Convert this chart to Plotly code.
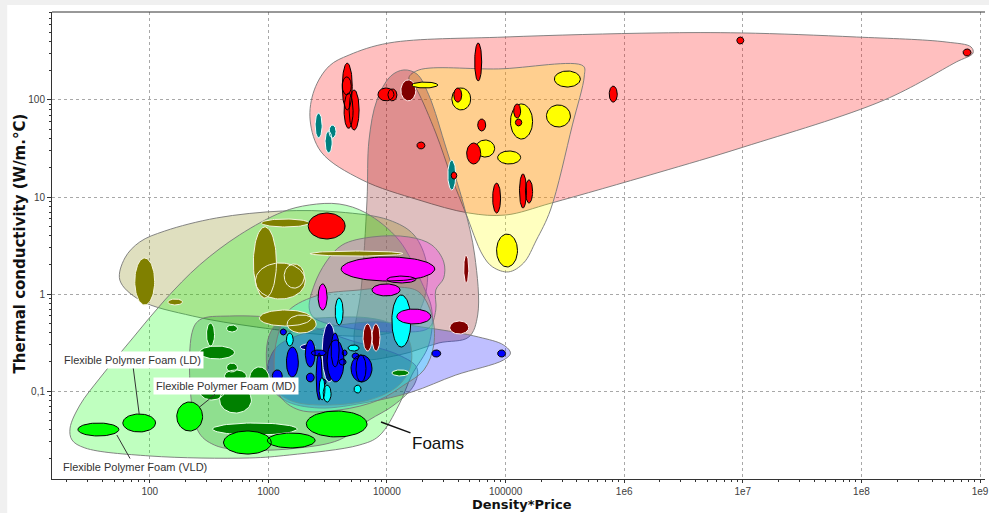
import numpy as np
import plotly.graph_objects as go

# ---------------- material bubbles (Density*Price range, conductivity range) ----------------
teal_dp_lo = [2480, 3010, 3250, 32600]
teal_dp_hi = [2840, 3450, 3720, 38000]
teal_k_lo = [40.6, 28.4, 40.6, 11.8]
teal_k_hi = [73.4, 47.9, 55.3, 24]

red_dp_lo = [4200, 4200, 4800, 4350, 8400, 10200, 54900, 36600, 58200, 17900, 34800, 47000,
             117000, 121000, 748000, 77800, 131000, 147000, 2170, 8.9e6, 7.2e8]
red_dp_hi = [5100, 5000, 5820, 5180, 11460, 12130, 62900, 42700, 68000, 20900, 38800, 61700,
             134000, 137000, 874000, 90800, 150000, 169000, 4440, 1.02e7, 8.4e8]
red_k_lo = [79, 113, 49, 51, 98, 98, 157, 95, 47.9, 31.3, 15.3, 21.9,
            65.2, 54, 95, 6.84, 7.7, 8.67, 3.69, 378, 284]
red_k_hi = [240, 173, 127, 118, 133, 130, 387, 133, 63.7, 36.9, 18.1, 36,
            91, 63.7, 139, 13.9, 17.3, 15, 6.84, 446, 336]

yellow_dp_lo = [16200, 35200, 56000, 85700, 110000, 258000, 221000, 84000]
yellow_dp_hi = [26800, 50800, 80900, 134000, 169000, 427000, 352000, 126000]
yellow_k_lo = [133, 79, 25.8, 21.9, 39.6, 136, 52.7, 1.9]
yellow_k_hi = [153, 133, 38.7, 29.8, 91, 199, 88.8, 4.15]

maroon_dp_lo = [13100, 44400, 33800, 6290, 7480]
maroon_dp_hi = [17500, 48900, 48900, 7480, 8730]
maroon_k_lo = [98, 1.3, 0.387, 0.258, 0.258]
maroon_k_hi = [161, 2.52, 0.527, 0.491, 0.491]

blue_dp_lo = [23900, 85700, 1420, 1260, 2050, 3130, 3380, 2300, 2530, 2090, 4980, 5490,
              3950, 4190, 5080, 2730, 1080]
blue_dp_hi = [28400, 100000, 1790, 1420, 2480, 4350, 3950, 3070, 2840, 2440, 7480, 6660,
              4520, 4610, 5820, 3070, 1310]
blue_k_lo = [0.224, 0.224, 0.139, 0.378, 0.177, 0.124, 0.177, 0.23, 0.0808, 0.124, 0.124, 0.124,
             0.185, 0.23, 0.214, 0.115, 0.124]
blue_k_hi = [0.265, 0.265, 0.284, 0.436, 0.336, 0.336, 0.396, 0.265, 0.246, 0.153, 0.235, 0.235,
             0.214, 0.265, 0.246, 0.133, 0.165]

navy_dp_lo = [2840, 1860]
navy_dp_hi = [3730, 2480]
navy_k_lo = [0.124, 0.265]
navy_k_hi = [0.502, 0.305]

cyan_dp_lo = [1420, 4700, 5280, 2680, 2900, 3660, 11000]
cyan_dp_hi = [1620, 5820, 6050, 3000, 3380, 4270, 15900]
cyan_k_lo = [0.291, 0.258, 0.0953, 0.081, 0.077, 0.479, 0.284]
cyan_k_hi = [0.396, 0.298, 0.115, 0.137, 0.115, 0.91, 0.977]

magenta_dp_lo = [4110, 10000, 7480, 12100, 2630]
magenta_dp_hi = [25300, 17500, 12900, 23400, 3130]
magenta_k_lo = [1.36, 1.3, 0.955, 0.491, 0.684]
magenta_k_hi = [2.41, 1.53, 1.27, 0.7, 1.27]

olive_dp_lo = [873, 748, 778, 1360, 2250, 840, 1440, 74.8, 142]
olive_dp_hi = [2210, 1170, 2050, 2010, 13600, 2300, 2530, 110, 189]
olive_k_lo = [4.91, 0.91, 0.888, 1.15, 2.46, 0.468, 0.396, 0.771, 0.771]
olive_k_hi = [5.93, 4.91, 2.09, 2.04, 2.77, 0.684, 0.608, 2.35, 0.888]

dkgreen_dp_lo = [301, 444, 263, 444, 427, 263, 388, 692, 338, 11000]
dkgreen_dp_hi = [352, 549, 518, 549, 653, 427, 720, 1020, 1750, 15300]
dkgreen_k_lo = [0.291, 0.406, 0.214, 0.157, 0.124, 0.0808, 0.0593, 0.0977, 0.0352, 0.143]
dkgreen_k_hi = [0.502, 0.479, 0.291, 0.194, 0.165, 0.124, 0.11, 0.177, 0.0468, 0.165]

lime_dp_lo = [24.8, 59.3, 169, 419, 981, 2090]
lime_dp_hi = [54.9, 112, 279, 1060, 2480, 6790]
lime_k_lo = [0.0344, 0.0378, 0.0387, 0.0224, 0.0259, 0.0336]
lime_k_hi = [0.0468, 0.058, 0.0771, 0.0387, 0.0369, 0.0622]

# ---------------- family envelopes (outline vertices) ----------------
metals_env_dp = [2250, 2440, 3260, 4800, 10400, 1e5, 1.89e6, 9.8e6, 9.08e7, 5.18e8, 8.4e8, 8.73e8,
                 6.29e8, 1.56e8, 1.02e7, 1.89e6, 2.44e5, 1e5, 48900, 18600, 6170, 2790]
metals_env_k = [62.2, 127, 224, 291, 387, 446, 491, 491, 446, 396, 352, 305,
                246, 100, 32.8, 17.7, 8.67, 6.52, 6.84, 9.31, 15, 29.1]

ceram_env_dp = [15300, 18600, 87300, 452000, 461000, 366000, 239000, 182000, 142000, 106000,
                77800, 64100, 46100, 35200, 25800, 17900]
ceram_env_k = [169, 204, 209, 224, 177, 55.3, 7.34, 3.6, 2.09, 1.69, 1.9, 2.52, 6.84, 15.7, 45.7, 127]

maroon_env_dp = [6790, 7060, 8240, 10800, 13900, 17900, 22500, 31900, 44400, 54900, 58200, 48900,
                 27400, 12600, 5820, 5280, 6050]
maroon_env_k = [9.31, 38.7, 100, 177, 204, 185, 113, 30.5, 8.27, 2.52, 0.608, 0.36,
                0.313, 0.235, 0.219, 0.336, 1.1]

olive_env_dp = [56, 61.7, 82.4, 134, 366, 1310, 3950, 10400, 16900, 21700, 20500, 15300,
                8570, 3260, 793, 230, 82.4]
olive_env_k = [1.39, 2.35, 3.44, 4.46, 6.08, 7.17, 7.0, 5.79, 4.06, 1.99, 0.867, 0.479,
               0.378, 0.378, 0.457, 0.593, 0.867]

foam_env_dp = [21.3, 25.8, 38, 72, 134, 263, 571, 1310, 2210, 3950, 6660, 12600, 19700, 23900,
               22500, 16200, 12600, 8570, 5820, 1500, 692, 100, 28.4, 22.1]
foam_env_k = [0.0415, 0.0717, 0.136, 0.352, 0.867, 1.99, 4.06, 7.0, 8.27, 8.47, 6.84, 3.6, 1.3,
              0.684, 0.298, 0.146, 0.0717, 0.0344, 0.0277, 0.0219, 0.0204, 0.0214, 0.0259, 0.0313]

dkgreen_env_dp = [225, 263, 470, 1500, 4800, 12600, 17900, 16900, 11460, 7060, 3950, 1820,
                  692, 352, 253]
dkgreen_env_k = [0.378, 0.54, 0.593, 0.54, 0.336, 0.235, 0.173, 0.115, 0.0717, 0.0502, 0.0313,
                 0.0259, 0.0246, 0.0277, 0.0396]

magenta_env_dp = [2210, 2440, 3070, 4190, 7480, 15300, 23900, 30100, 30100, 25800, 25800,
                  22500, 12600, 4800, 2440]
magenta_env_k = [0.717, 1.24, 2.14, 3.2, 3.87, 3.87, 3.2, 2.14, 1.46, 1.1, 0.684,
                 0.446, 0.406, 0.446, 0.566]

cyan_env_dp = [1240, 1500, 2680, 5820, 12600, 18600, 23900, 24800, 20500, 13900, 8570, 3950,
               1820, 1240, 1120]
cyan_env_k = [0.426, 0.684, 0.977, 1.1, 1.18, 1.05, 0.608, 0.298, 0.165, 0.115, 0.0808, 0.0637,
              0.0637, 0.091, 0.209]

navy_env_dp = [1020, 1240, 2680, 7060, 11500, 15300, 15900, 12600, 7060, 2680, 1500, 1060, 962]
navy_env_k = [0.378, 0.515, 0.566, 0.566, 0.479, 0.336, 0.185, 0.115, 0.0808, 0.0717, 0.0808,
              0.115, 0.209]

blue_env_dp = [1120, 1820, 7060, 22500, 59300, 96200, 110000, 96200, 38000, 16200, 7060, 2680,
               1360, 981]
blue_env_k = [0.265, 0.378, 0.515, 0.446, 0.36, 0.298, 0.246, 0.209, 0.146, 0.0977, 0.0771,
              0.0668, 0.0808, 0.13]

# ---------------- tick labels ----------------
x_tickvals = [1e2, 1e3, 1e4, 1e5, 1e6, 1e7, 1e8, 1e9]
x_ticktext = ["100", "1000", "10000", "100000", "1e6", "1e7", "1e8", "1e9"]
y_tickvals = [0.1, 1, 10, 100]
y_ticktext = ["0,1", "1", "10", "100"]


def ellipses(xlo, xhi, ylo, yhi, n=72):
    xs, ys = [], []
    t = np.linspace(0, 2 * np.pi, n)
    for a, b, c, d in zip(xlo, xhi, ylo, yhi):
        la, lb, lc, ld = np.log10([a, b, c, d])
        xs += list(10 ** ((la + lb) / 2 + (lb - la) / 2 * np.cos(t))) + [None]
        ys += list(10 ** ((lc + ld) / 2 + (ld - lc) / 2 * np.sin(t))) + [None]
    return xs, ys


fig = go.Figure()

envelopes = [
    (metals_env_dp, metals_env_k, "rgba(255,0,0,0.25)"),
    (ceram_env_dp, ceram_env_k, "rgba(255,255,0,0.25)"),
    (maroon_env_dp, maroon_env_k, "rgba(128,0,0,0.25)"),
    (olive_env_dp, olive_env_k, "rgba(128,128,0,0.25)"),
    (foam_env_dp, foam_env_k, "rgba(0,255,0,0.25)"),
    (dkgreen_env_dp, dkgreen_env_k, "rgba(0,128,0,0.25)"),
    (magenta_env_dp, magenta_env_k, "rgba(255,0,255,0.25)"),
    (blue_env_dp, blue_env_k, "rgba(0,0,255,0.25)"),
    (navy_env_dp, navy_env_k, "rgba(0,0,128,0.25)"),
    (cyan_env_dp, cyan_env_k, "rgba(0,255,255,0.25)"),
]
for ex, ey, col in envelopes:
    fig.add_trace(go.Scatter(
        x=list(ex) + [ex[0]], y=list(ey) + [ey[0]], mode="lines",
        line=dict(shape="spline", smoothing=1.0, color="rgba(120,120,120,0.9)", width=1),
        fill="toself", fillcolor=col, hoverinfo="skip", showlegend=False))

groups = [
    (olive_dp_lo, olive_dp_hi, olive_k_lo, olive_k_hi, "#808000", "#f4f4dc"),
    (dkgreen_dp_lo, dkgreen_dp_hi, dkgreen_k_lo, dkgreen_k_hi, "#008000", "#e8ffe8"),
    (lime_dp_lo, lime_dp_hi, lime_k_lo, lime_k_hi, "#00ff00", "#000000"),
    (navy_dp_lo, navy_dp_hi, navy_k_lo, navy_k_hi, "#000080", "#e8e8ff"),
    (blue_dp_lo, blue_dp_hi, blue_k_lo, blue_k_hi, "#0000ff", "#000000"),
    (cyan_dp_lo, cyan_dp_hi, cyan_k_lo, cyan_k_hi, "#00ffff", "#000000"),
    (magenta_dp_lo, magenta_dp_hi, magenta_k_lo, magenta_k_hi, "#ff00ff", "#000000"),
    (maroon_dp_lo, maroon_dp_hi, maroon_k_lo, maroon_k_hi, "#800000", "#ffe8e8"),
    (teal_dp_lo, teal_dp_hi, teal_k_lo, teal_k_hi, "#008080", "#e8ffff"),
    (yellow_dp_lo, yellow_dp_hi, yellow_k_lo, yellow_k_hi, "#ffff00", "#000000"),
    (red_dp_lo, red_dp_hi, red_k_lo, red_k_hi, "#ff0000", "#000000"),
]
for xlo, xhi, ylo, yhi, fc, lc in groups:
    ex, ey = ellipses(xlo, xhi, ylo, yhi)
    fig.add_trace(go.Scatter(
        x=ex, y=ey, mode="lines", line=dict(color=lc, width=1),
        fill="toself", fillcolor=fc, hoverinfo="skip", showlegend=False))

ann_font = dict(family="Liberation Sans, Arial, sans-serif", size=11, color="#333333")
labels = [
    ("Flexible Polymer Foam (LD)", 81.5, 0.058, -7, -54, True),
    ("Flexible Polymer Foam (MD)", 263, 0.0684, 26, -21, True),
    ("Flexible Polymer Foam (VLD)", 52.8, 0.0352, 18, 32, False),
]
for txt, ax_, ay_, dx, dy, box in labels:
    fig.add_annotation(x=np.log10(ax_), y=np.log10(ay_), text=txt, showarrow=True,
                       ax=dx, ay=dy, arrowhead=0, arrowwidth=1, arrowcolor="#333333",
                       font=ann_font, bgcolor="white" if box else None, borderpad=2)
fig.add_annotation(x=np.log10(8910), y=np.log10(0.0479), text="Foams", showarrow=True,
                   ax=57, ay=21, arrowhead=0, arrowwidth=1.5, arrowcolor="#111111",
                   font=dict(family="Liberation Sans, Arial, sans-serif", size=17, color="#111111"))

# axis titles
fig.add_annotation(xref="paper", yref="paper", x=0.504, y=-0.0728, xanchor="center", yanchor="bottom",
                   text="<b>Density*Price</b>", showarrow=False, borderpad=0,
                   font=dict(family="DejaVu Sans, sans-serif", size=13, color="#111111"))
fig.add_annotation(xref="paper", yref="paper", x=-0.034, y=0.505, xanchor="center", yanchor="middle",
                   textangle=-90, text="<b>Thermal conductivity (W/m.°C)</b>", showarrow=False,
                   font=dict(family="DejaVu Sans, sans-serif", size=15, color="#111111"))

minor_x = [m * 10 ** e for e in range(1, 9) for m in range(2, 10)]
minor_y = [m * 10 ** e for e in range(-2, 3) for m in range(2, 10)]
tickfont = dict(family="Liberation Sans, Arial, sans-serif", size=10, color="#404040")

fig.update_xaxes(type="log", range=[1.176, 9.042], tickvals=x_tickvals, ticktext=x_ticktext,
                 showgrid=True, gridcolor="#a8a8a8", griddash="3px,3px", gridwidth=1,
                 showline=True, linecolor="#333333", linewidth=1, ticks="outside", ticklen=3,
                 tickcolor="#333333", zeroline=False, tickfont=tickfont, ticklabeloverflow="allow",
                 minor=dict(tickmode="array", tickvals=minor_x, ticks="outside", ticklen=2,
                            tickcolor="#333333", showgrid=False))
fig.update_yaxes(type="log", range=[-1.907, 2.907], tickvals=y_tickvals, ticktext=y_ticktext,
                 showgrid=True, gridcolor="#a8a8a8", griddash="3px,3px", gridwidth=1,
                 showline=True, linecolor="#333333", linewidth=1, ticks="outside", ticklen=4,
                 tickcolor="#333333", zeroline=False, tickfont=tickfont,
                 minor=dict(tickmode="array", tickvals=minor_y, ticks="outside", ticklen=2,
                            tickcolor="#333333", showgrid=False))

fig.update_layout(
    width=989, height=513, margin=dict(l=52, r=0, t=12, b=34),
    paper_bgcolor="#f0f0f0", plot_bgcolor="white", showlegend=False,
    shapes=[
        dict(type="rect", xref="paper", yref="paper", x0=-0.048, x1=1.02, y0=-0.08, y1=1.015,
             fillcolor="white", line=dict(width=0), layer="below"),
        dict(type="line", xref="paper", yref="paper", x0=0, x1=1, y0=1, y1=1,
             line=dict(color="#333333", width=1), layer="above"),
    ],
)

fig.write_html("out.html", config={"displayModeBar": False},
               post_script="document.body.style.margin='0px';document.body.style.overflow='hidden';")
